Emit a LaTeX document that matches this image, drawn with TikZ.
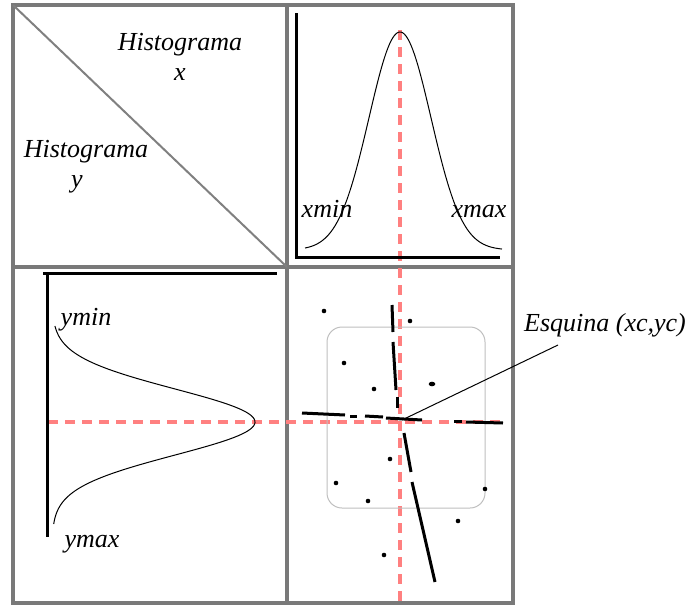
\documentclass[tikz,border=0pt]{standalone}
\usepackage{fontspec}
\setmainfont{Liberation Serif}
\begin{document}
\begin{tikzpicture}[x=1pt,y=-1pt,
  frame/.style={draw=gray!95!black, line width=3.5pt},
  axis/.style={draw=black, line width=3pt},
  curve/.style={draw=black, line width=1pt},
  reddash/.style={draw=red!50!white, line width=3.5pt, dash pattern=on 10pt off 7pt},
  lbl/.style={font=\fontsize{26}{28}\selectfont\itshape, anchor=base, inner sep=0pt},
  edgeseg/.style={draw=black, line width=3pt},
]
\useasboundingbox (0,0) rectangle (691,605);
% frame
\draw[frame] (13,5) rectangle (513,603);
\draw[frame] (287,5) -- (287,603);
\draw[frame] (13,267) -- (513,267);
% top-left
\draw[draw=gray, line width=2pt] (13,5) -- (287,267);
\node[lbl] (hx) at (180,50) {Histograma};
\node[lbl] (hxx) at (180,80) {x};
\node[lbl] (hy) at (86,157) {Histograma};
\node[lbl] (hyy) at (77,187) {y};
% red dashed lines
\draw[reddash] (400,30) -- (400,605);
\draw[reddash] (48,422) -- (505,422);
% top-right
\draw[axis] (296,13) -- (296,257) -- (500,257);
\draw[curve] plot[domain=305:502, samples=120] (\x, {250 - 218*exp(-((\x-400)^2)/(2*31^2))});
\node[lbl] (xmin) at (327,217) {xmin};
\node[lbl] (xmax) at (479,217) {xmax};
% bottom-left
\draw[axis] (43,273) -- (277,273);
\draw[axis] (47,273) -- (47,537);
\draw[curve] plot[domain=326:524, samples=120] ({52 + 203*exp(-((\x-422)^2)/(2*33^2))}, \x);
\node[lbl] (ymin) at (86,325) {ymin};
\node[lbl] (ymax) at (92,547) {ymax};
% bottom-right
\draw[draw=gray!50, line width=1pt, rounded corners=15pt] (327,327) rectangle (485,508);
\draw[edgeseg] (392,305) -- (393,332);
\draw[edgeseg] (393,342) -- (396,390);
\draw[edgeseg] (397,397) -- (397,408);
\draw[edgeseg] (302,413) -- (345,415);
\draw[edgeseg] (350,416) -- (357,416);
\draw[edgeseg] (365,416) -- (383,417);
\draw[edgeseg] (386,418) -- (422,420);
\draw[edgeseg] (454,421) -- (462,421);
\draw[edgeseg] (466,422) -- (503,423);
\draw[edgeseg] (404,433) -- (411,472);
\draw[edgeseg] (412,482) -- (435,582);
\foreach \p in {(324,311),(410,321),(344,363),(374,389),(390,459),(336,483),(368,501),(485,489),(458,521),(384,555)}
  \fill \p circle (2.3pt);
\fill (432,384) ellipse (3.3pt and 2.3pt);
\coordinate (corner) at (402,420);
\node[lbl] (esq) at (605,331) {Esquina (xc,yc)};
\coordinate (lend) at (558,345);
\draw[draw=black, line width=1pt] (corner) -- (lend);
\end{tikzpicture}
\end{document}
